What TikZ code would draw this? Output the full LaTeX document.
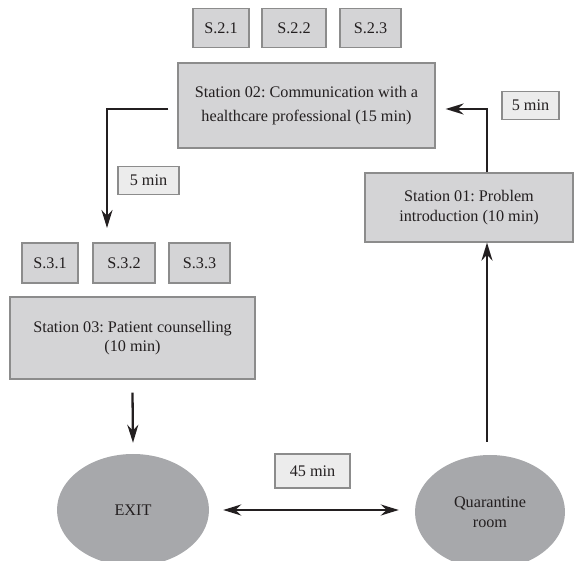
\documentclass[tikz,border=0pt]{standalone}
\usepackage{fontspec}
\setmainfont{Liberation Serif}
\usetikzlibrary{arrows.meta,shapes.geometric}
\definecolor{boxgray}{HTML}{D4D4D6}
\definecolor{timegray}{HTML}{ECECEC}
\definecolor{ovalgray}{HTML}{A7A8AB}
\definecolor{edgegray}{HTML}{8C8C8C}
\definecolor{ink}{HTML}{231F20}
\frenchspacing

\begin{document}
\begin{tikzpicture}[x=1pt, y=-1pt,
  font=\fontsize{16.2}{19.5}\selectfont, text=ink,
  station/.style={draw=edgegray, line width=1.2pt, fill=boxgray, align=center, inner sep=0pt},
  sub/.style={draw=edgegray, line width=1.2pt, fill=boxgray, inner sep=0pt, minimum height=39pt},
  timebox/.style={draw=edgegray, line width=1.1pt, fill=timegray, inner sep=0pt, minimum height=28pt},
  oval/.style={ellipse, fill=ovalgray, inner sep=0pt, align=center},
  flow/.style={draw=ink, line width=2.3pt, -{Stealth[length=18pt, width=11pt]}}]
\useasboundingbox (0,0) rectangle (574,561);
% stations and sub-stations
\node[sub, minimum width=56pt] (s21) at (221,28) {S.2.1};
\node[sub, minimum width=64pt] (s22) at (294,28) {S.2.2};
\node[sub, minimum width=61pt] (s23) at (370.5,28) {S.2.3};
\node[station, minimum width=257pt, minimum height=85pt] (st2) at (306.5,105.5)
  {Station 02: Communication with a\\[5pt] healthcare professional (15 min)};
\node[station, minimum width=208pt, minimum height=69pt] (st1) at (469,207.5)
  {Station 01: Problem\\ introduction (10 min)};
\node[sub, minimum width=56pt, minimum height=40pt] (s31) at (50,263) {S.3.1};
\node[sub, minimum width=62pt, minimum height=40pt] (s32) at (124,263) {S.3.2};
\node[sub, minimum width=61pt, minimum height=40pt] (s33) at (199.5,263) {S.3.3};
\node[station, minimum width=245pt, minimum height=82pt] (st3) at (132.5,338)
  {Station 03: Patient counselling\\ (10 min)};
% time labels
\node[timebox, minimum width=57pt] (t1) at (530.5,105.5) {5 min};
\node[timebox, minimum width=61pt] (t2) at (148.5,180.5) {5 min};
\node[timebox, minimum width=75pt, minimum height=34pt] (t3) at (312.5,471) {45 min};
% exit and quarantine
\node[oval, minimum width=152pt, minimum height=112pt] (exit) at (133,510) {EXIT};
\node[oval, minimum width=150pt, minimum height=114pt] (quar) at (490,512) {Quarantine\\ room};
% arrows
\coordinate (q1) at (487,442);
\coordinate (d3) at (107,228);
\draw[flow] (q1) -- (q1 |- st1.south);
\draw[flow] (q1 |- st1.north) |- ([shift={(10pt,-3.5pt)}]st2.east);
\draw[flow] ([shift={(-9pt,-3.5pt)}]st2.west) -| (d3);
\draw[flow] ([yshift=-13pt]st3.south) -- ([yshift=11pt]exit.north);
\draw[draw=ink, line width=2.3pt, {Stealth[length=18pt, width=11pt]}-{Stealth[length=18pt, width=11pt]}]
  ([xshift=14pt]exit.east) -- ([xshift=-16pt]quar.west |- exit.east);
\end{tikzpicture}
\end{document}
